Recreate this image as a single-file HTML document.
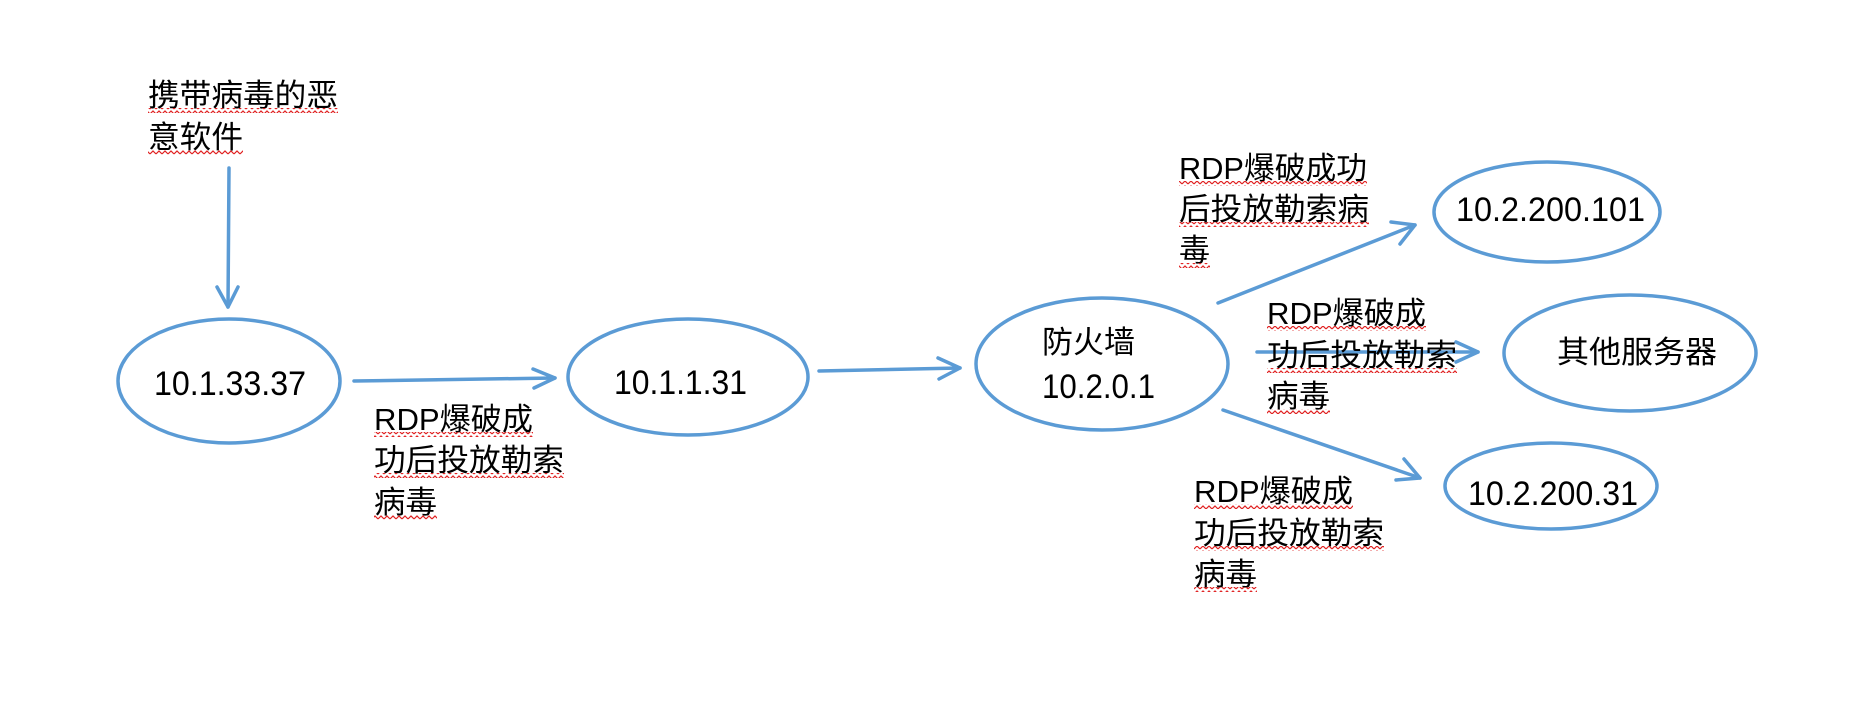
<!DOCTYPE html>
<html><head><meta charset="utf-8"><style>
html,body{margin:0;padding:0;background:#fff;}
svg{display:block}
text{font-family:"Liberation Sans","Noto Sans CJK SC",sans-serif;font-size:31px;fill:#000}
</style></head><body>
<svg width="1874" height="724" viewBox="0 0 1874 724" xmlns="http://www.w3.org/2000/svg">
<defs>
<pattern id="zz" width="6" height="5" patternUnits="userSpaceOnUse">
<path d="M0 4 L3 1 L6 4" fill="none" stroke="#e02020" stroke-width="1.2"/>
</pattern>
</defs>
<g fill="none" stroke="#5b9bd5" stroke-width="3.5" stroke-linecap="round" stroke-linejoin="round">
<ellipse cx="229" cy="381" rx="111" ry="62"/>
<ellipse cx="688" cy="377" rx="120" ry="58"/>
<ellipse cx="1102" cy="364" rx="126" ry="66"/>
<ellipse cx="1547" cy="212" rx="113" ry="50"/>
<ellipse cx="1630" cy="353" rx="126" ry="58"/>
<ellipse cx="1551" cy="486" rx="106" ry="43"/>
<!-- vertical -->
<line x1="229" y1="168" x2="228" y2="307"/>
<polyline points="217,287 228,307 238,287"/>
<!-- 1->2 -->
<line x1="354" y1="381" x2="555" y2="378"/>
<polyline points="533,369 555,378 534,388"/>
<!-- 2->3 -->
<line x1="819" y1="371" x2="960" y2="368"/>
<polyline points="938,358 960,368 939,379"/>
<!-- up -->
<line x1="1218" y1="303" x2="1415" y2="225"/>
<polyline points="1391,222 1415,225 1400,244"/>
<!-- middle -->
<line x1="1257" y1="352" x2="1478" y2="352"/>
<polyline points="1456,342 1478,352 1456,362"/>
<!-- down -->
<line x1="1223" y1="410" x2="1420" y2="478"/>
<polyline points="1404,459 1420,478 1396,480"/>
</g>
<!-- node text -->
<text x="154" y="395" textLength="152" lengthAdjust="spacingAndGlyphs" style="font-size:34px">10.1.33.37</text>
<text x="614" y="394" textLength="133" lengthAdjust="spacingAndGlyphs" style="font-size:34px">10.1.1.31</text>
<text x="1042" y="353">防火墙</text>
<text x="1042" y="398" textLength="113" lengthAdjust="spacingAndGlyphs" style="font-size:34px">10.2.0.1</text>
<text x="1456" y="221" textLength="189" lengthAdjust="spacingAndGlyphs" style="font-size:34px">10.2.200.101</text>
<text x="1557" y="363" textLength="160" lengthAdjust="spacingAndGlyphs">其他服务器</text>
<text x="1468" y="505" textLength="170" lengthAdjust="spacingAndGlyphs" style="font-size:34px">10.2.200.31</text>
<!-- labels -->
<text x="148" y="106" textLength="190" lengthAdjust="spacingAndGlyphs">携带病毒的恶</text>
<text x="148" y="148" textLength="95" lengthAdjust="spacingAndGlyphs">意软件</text>
<rect x="148" y="108" width="190" height="5" fill="url(#zz)"/>
<rect x="148" y="150" width="95" height="5" fill="url(#zz)"/>

<text x="374" y="430" textLength="159" lengthAdjust="spacingAndGlyphs">RDP爆破成</text>
<text x="374" y="471" textLength="190" lengthAdjust="spacingAndGlyphs">功后投放勒索</text>
<text x="374" y="513" textLength="63" lengthAdjust="spacingAndGlyphs">病毒</text>
<rect x="374" y="432" width="159" height="5" fill="url(#zz)"/>
<rect x="374" y="473" width="190" height="5" fill="url(#zz)"/>
<rect x="374" y="515" width="63" height="5" fill="url(#zz)"/>

<text x="1179" y="179" textLength="188" lengthAdjust="spacingAndGlyphs">RDP爆破成功</text>
<text x="1179" y="220" textLength="190" lengthAdjust="spacingAndGlyphs">后投放勒索病</text>
<text x="1179" y="261" textLength="31" lengthAdjust="spacingAndGlyphs">毒</text>
<rect x="1179" y="181" width="188" height="5" fill="url(#zz)"/>
<rect x="1179" y="222" width="190" height="5" fill="url(#zz)"/>
<rect x="1179" y="263" width="31" height="5" fill="url(#zz)"/>

<text x="1267" y="324" textLength="159" lengthAdjust="spacingAndGlyphs">RDP爆破成</text>
<text x="1267" y="366" textLength="190" lengthAdjust="spacingAndGlyphs">功后投放勒索</text>
<text x="1267" y="407" textLength="63" lengthAdjust="spacingAndGlyphs">病毒</text>
<rect x="1267" y="326" width="159" height="5" fill="url(#zz)"/>
<rect x="1267" y="368" width="190" height="5" fill="url(#zz)"/>
<rect x="1267" y="409" width="63" height="5" fill="url(#zz)"/>

<text x="1194" y="502" textLength="159" lengthAdjust="spacingAndGlyphs">RDP爆破成</text>
<text x="1194" y="544" textLength="190" lengthAdjust="spacingAndGlyphs">功后投放勒索</text>
<text x="1194" y="585" textLength="63" lengthAdjust="spacingAndGlyphs">病毒</text>
<rect x="1194" y="504" width="159" height="5" fill="url(#zz)"/>
<rect x="1194" y="546" width="190" height="5" fill="url(#zz)"/>
<rect x="1194" y="587" width="63" height="5" fill="url(#zz)"/>
</svg>
</body></html>
